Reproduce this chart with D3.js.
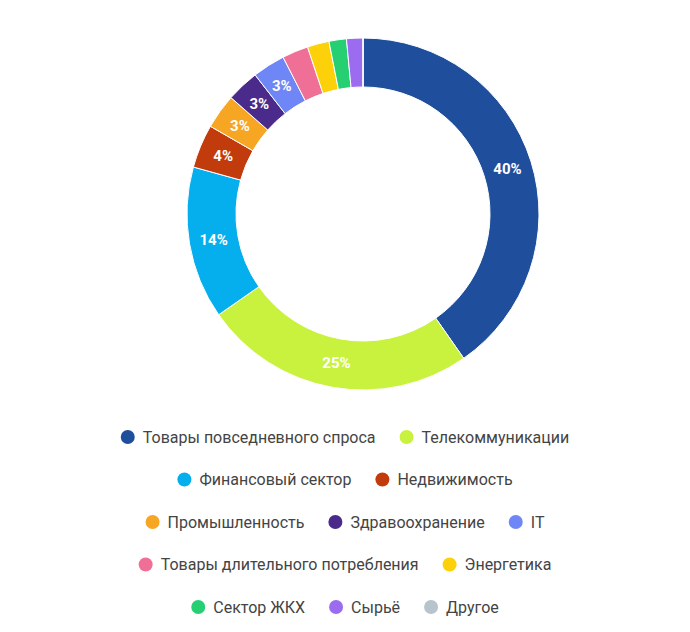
<!DOCTYPE html><html><head><meta charset="utf-8"><script src="https://cdn.jsdelivr.net/npm/d3@7"></script>
<style>body{margin:0;background:#fff}</style></head><body><svg id="c" width="690" height="632"></svg><script>
const categories=["Товары повседневного спроса","Телекоммуникации","Финансовый сектор","Недвижимость","Промышленность","Здравоохранение","IT","Товары длительного потребления","Энергетика","Сектор ЖКХ","Сырьё","Другое"];
const values=[40.3,25,14,4,3.2,3,3,2.4,2,1.6,1.5,0];
const labels=["40%","25%","14%","4%","3%","3%","3%","","","","",""];
const colors=["#1f4e9c","#c9f23f","#05aeed","#c23b0c","#f6a623","#4a2a8a","#6f86f6","#ef6f96","#fdd10a","#27cf73","#9c6cf0","#b7c4cc"];
const legendRows=[[0,1],[2,3],[4,5,6],[7,8],[9,10,11]];
const svg=d3.select("#c"),cx=363,cy=214,R=176,r=127;
const pie=d3.pie().sort(null).value(d=>d)(values);
const arc=d3.arc().innerRadius(r).outerRadius(R);
const g=svg.append("g").attr("transform",`translate(${cx},${cy})`);
g.selectAll("path").data(pie).join("path").attr("d",arc).attr("fill",(d,i)=>colors[i]).attr("stroke","#fff").attr("stroke-width",1);
const la=d3.arc().innerRadius((r+R)/2).outerRadius((r+R)/2);
g.selectAll("text").data(pie).join("text").attr("transform",d=>`translate(${la.centroid(d)})`).attr("text-anchor","middle").attr("dy","0.35em")
 .attr("font-family","Roboto").attr("font-weight","bold").attr("font-size",15).attr("fill","#fff").text((d,i)=>labels[i]);
legendRows.forEach((row,ri)=>{
 const y=437+ri*42.5;
 const tmp=svg.append("g");
 let x=0;
 row.forEach(i=>{
  tmp.append("circle").attr("cx",x+7).attr("cy",0).attr("r",7).attr("fill",colors[i]);
  const t=tmp.append("text").attr("x",x+22).attr("y",0).attr("dy","0.35em").attr("font-family","Roboto").attr("font-size",16).attr("fill","#444").text(categories[i]);
  x+=22+t.node().getComputedTextLength()+24;
 });
 x-=24;
 tmp.attr("transform",`translate(${345-x/2},${y})`);
});
</script></body></html>
